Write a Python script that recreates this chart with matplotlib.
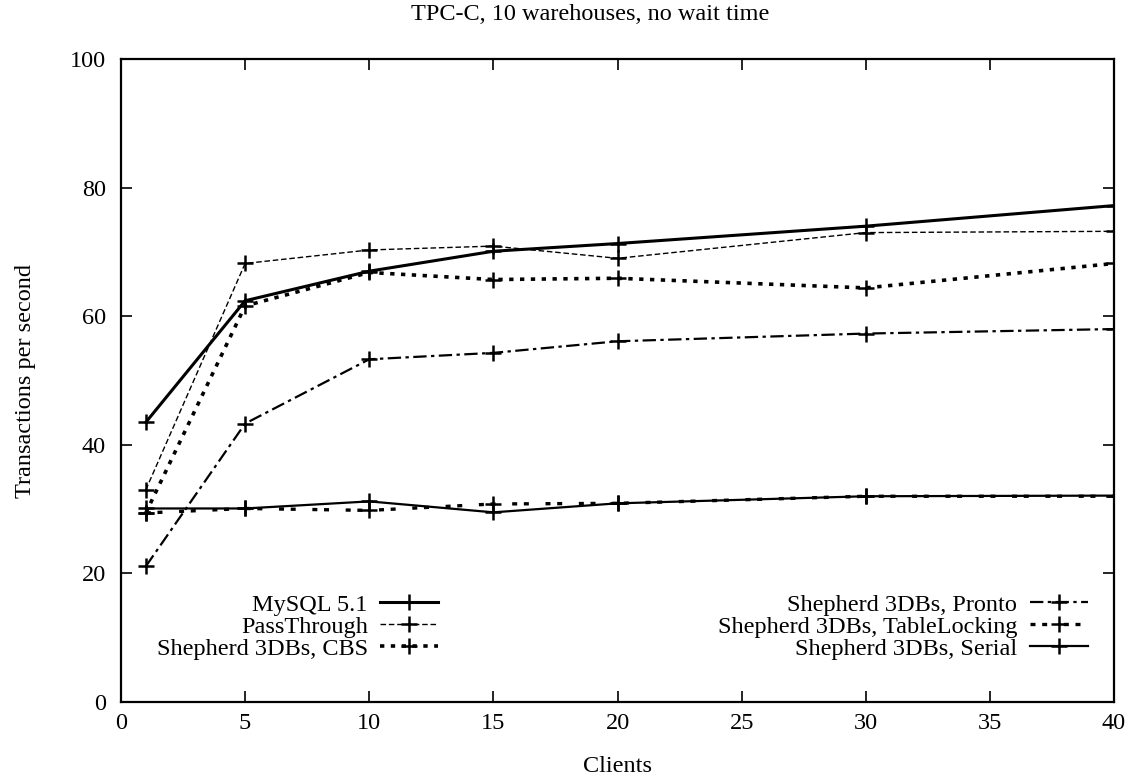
import matplotlib
matplotlib.use('Agg')
import matplotlib.pyplot as plt

plt.rcParams['font.family'] = ['Liberation Serif', 'DejaVu Serif']
plt.rcParams['font.size'] = 17.5

clients = [1, 5, 10, 15, 20, 30, 40]

mysql = [43.5, 62.4, 67.0, 70.1, 71.3, 74.0, 77.2]
passthrough = [33.0, 68.2, 70.3, 70.9, 69.0, 73.0, 73.2]
cbs = [29.4, 61.6, 66.8, 65.7, 65.9, 64.4, 68.2]
pronto = [21.1, 43.3, 53.3, 54.3, 56.1, 57.3, 58.0]
table_locking = [29.4, 30.1, 29.8, 30.8, 30.9, 32.0, 32.0]
serial = [30.1, 30.1, 31.2, 29.5, 30.9, 32.0, 32.1]

labels = ['MySQL 5.1', 'PassThrough', 'Shepherd 3DBs, CBS',
          'Shepherd 3DBs, Pronto', 'Shepherd 3DBs, TableLocking',
          'Shepherd 3DBs, Serial']

styles = [
    dict(ls='-', lw=2.2),
    dict(ls=(0, (4, 2)), lw=1.0),
    dict(ls=(0, (1.2, 1.8)), lw=2.6),
    dict(ls=(0, (6, 2, 1.5, 2)), lw=1.6),
    dict(ls=(0, (1.5, 2, 1.5, 5)), lw=2.4),
    dict(ls='-', lw=1.6),
]

fig = plt.figure(figsize=(11.37, 7.79), dpi=100)
ax = fig.add_axes([0.1064, 0.0988, 0.8734, 0.8255])

series = [mysql, passthrough, cbs, pronto, table_locking, serial]
for vals, lab, st in zip(series, labels, styles):
    ax.plot(clients, vals, color='black', marker='+', ms=12, mew=1.8,
            label=lab, **st)

ax.set_xlim(0, 40)
ax.set_ylim(0, 100)
ax.set_xticks(range(0, 41, 5))
ax.set_yticks(range(0, 101, 20))
ax.tick_params(direction='in', length=8, width=1.2, top=True, right=True)
ax.tick_params(axis='x', pad=8)
ax.tick_params(axis='y', pad=11)
for sp in ax.spines.values():
    sp.set_linewidth(1.6)

ax.set_xlabel('Clients', labelpad=16)
ax.set_ylabel('Transactions per second', labelpad=24)
fig.text(0.519, 0.981, 'TPC-C, 10 warehouses, no wait time',
         ha='center', va='center')

leg = ax.legend(ncol=2, markerfirst=False, frameon=False, loc='lower right',
                bbox_to_anchor=(1100 / 1137, 107 / 779),
                bbox_transform=fig.transFigure, borderpad=0,
                handlelength=2.4, handletextpad=0.5, labelspacing=0.0,
                columnspacing=11.5)

fig.savefig('out.png', dpi=100)
